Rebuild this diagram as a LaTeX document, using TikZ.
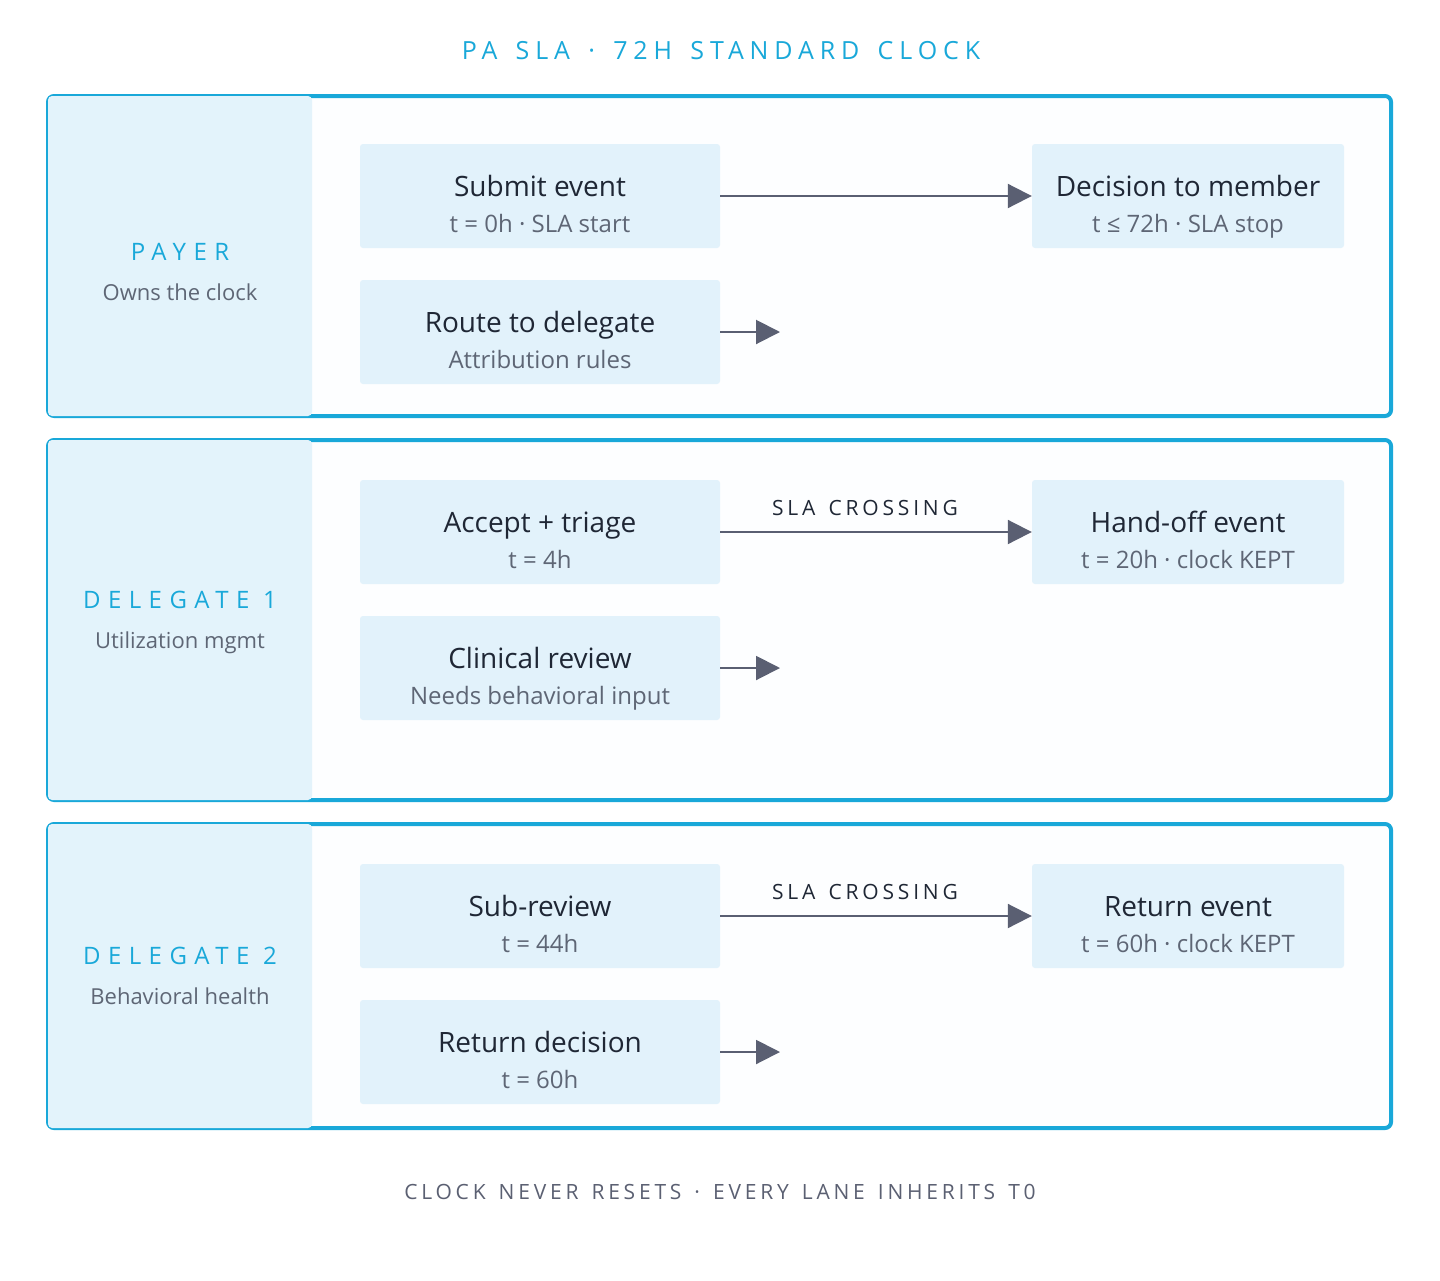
\documentclass[tikz,border=0pt]{standalone}
\usepackage{fontspec}
\setmainfont{Open Sans}
\newfontfamily\trTitle[LetterSpace=23.6]{Open Sans}
\newfontfamily\trLane[LetterSpace=31]{Open Sans}
\newfontfamily\trSmall[LetterSpace=18.2]{Open Sans}
\newfontfamily\trFoot[LetterSpace=18]{Open Sans}
\newcommand\tgap[1]{\hspace{#1}\ }
\usetikzlibrary{arrows.meta}
\definecolor{laneblue}{HTML}{19A8D9}
\definecolor{panelfill}{HTML}{E3F3FB}
\definecolor{boxfill}{HTML}{E2F2FB}
\definecolor{lanebg}{HTML}{FDFEFF}
\definecolor{arrowgray}{HTML}{5A5F72}
\definecolor{maintext}{HTML}{1F2735}
\definecolor{subtext}{HTML}{5E6675}
\definecolor{foottext}{HTML}{5B6072}
\tikzset{
  lanerect/.style={draw=laneblue, line width=4pt, fill=lanebg, rounded corners=6pt},
  panelrect/.style={fill=panelfill, rounded corners=4pt},
  stepbox/.style={rectangle, fill=boxfill, rounded corners=3pt, minimum width=360pt, minimum height=104pt, inner sep=0pt},
  endbox/.style={rectangle, fill=boxfill, rounded corners=3pt, minimum width=312pt, minimum height=104pt, inner sep=0pt},
  maintxt/.style={anchor=base, inner sep=0pt, text=maintext, font=\fontsize{28}{34}\selectfont},
  subtxt/.style={anchor=base, inner sep=0pt, text=subtext, font=\fontsize{24}{29}\selectfont},
  lanetitle/.style={anchor=base, inner sep=0pt, text=laneblue, font=\trLane\fontsize{24}{30}\selectfont},
  lanesub/.style={anchor=base, inner sep=0pt, text=subtext, font=\fontsize{22}{27}\selectfont},
  crosslbl/.style={anchor=base, inner sep=0pt, text=maintext, font=\trSmall\fontsize{21}{26}\selectfont},
  arr/.style={draw=arrowgray, line width=2pt, -{Triangle[length=24pt,width=24pt]}},
}
\begin{document}
\begin{tikzpicture}[x=1pt,y=-1pt]
\useasboundingbox (0,0) rectangle (1440,1280);
\fill[white] (0,0) rectangle (1440,1280);

% title
\node[anchor=base, inner sep=0pt, text=laneblue, font=\trTitle\fontsize{25}{30}\selectfont] (title) at (721,59) {PA\tgap{5.9pt}SLA\tgap{5.9pt}·\tgap{5.9pt}72H\tgap{5.9pt}STANDARD\tgap{5.9pt}CLOCK\hspace{-5.9pt}};

% lanes
\draw[lanerect] (48,96) rectangle (1391,416);
\fill[panelrect] (48,96) rectangle (312,416);
\draw[lanerect] (48,440) rectangle (1391,800);
\fill[panelrect] (48,440) rectangle (312,800);
\draw[lanerect] (48,824) rectangle (1391,1128);
\fill[panelrect] (48,824) rectangle (312,1128);

% lane labels
\node[lanetitle] (l1) at (180,260) {PAYER\hspace{-7.4pt}};
\node[lanesub] (l1s) at (180,300) {Owns the clock};
\node[lanetitle] (l2) at (180,608) {DELEGATE 1\hspace{-7.4pt}};
\node[lanesub] (l2s) at (180,648) {Utilization mgmt};
\node[lanetitle] (l3) at (180,964) {DELEGATE 2\hspace{-7.4pt}};
\node[lanesub] (l3s) at (180,1004) {Behavioral health};

% lane 1 boxes
\node[stepbox] (submit) at (540,196) {};
\node[maintxt] at (540,196) {Submit event};
\node[subtxt] at (540,232) {t = 0h · SLA start};
\node[endbox] (decision) at (1188,196) {};
\node[maintxt] at (1188,196) {Decision to member};
\node[subtxt] at (1188,232) {t ≤ 72h · SLA stop};
\node[stepbox] (route) at (540,332) {};
\node[maintxt] at (540,332) {Route to delegate};
\node[subtxt] at (540,368) {Attribution rules};

% lane 2 boxes
\node[stepbox] (accept) at (540,532) {};
\node[maintxt] at (540,532) {Accept + triage};
\node[subtxt] at (540,568) {t = 4h};
\node[endbox] (handoff) at (1188,532) {};
\node[maintxt] at (1188,532) {Hand-off event};
\node[subtxt] at (1188,568) {t = 20h · clock KEPT};
\node[stepbox] (clinical) at (540,668) {};
\node[maintxt] at (540,668) {Clinical review};
\node[subtxt] at (540,704) {Needs behavioral input};

% lane 3 boxes
\node[stepbox] (subrev) at (540,916) {};
\node[maintxt] at (540,916) {Sub-review};
\node[subtxt] at (540,952) {t = 44h};
\node[endbox] (retevent) at (1188,916) {};
\node[maintxt] at (1188,916) {Return event};
\node[subtxt] at (1188,952) {t = 60h · clock KEPT};
\node[stepbox] (retdec) at (540,1052) {};
\node[maintxt] at (540,1052) {Return decision};
\node[subtxt] at (540,1088) {t = 60h};

% connectors
\coordinate (e1) at (780,332);
\coordinate (e2) at (780,668);
\coordinate (e3) at (780,1052);
\draw[arr] (submit.east) -- (decision.west);
\draw[arr] (route.east) -- (e1);
\draw[arr] (accept.east) -- (handoff.west);
\draw[arr] (clinical.east) -- (e2);
\draw[arr] (subrev.east) -- (retevent.west);
\draw[arr] (retdec.east) -- (e3);

\node[crosslbl] (c1) at (865,515.5) {SLA\tgap{3.8pt}CROSSING\hspace{-3.8pt}};
\node[crosslbl] (c2) at (865,899.5) {SLA\tgap{3.8pt}CROSSING\hspace{-3.8pt}};

% footer
\node[anchor=base, inner sep=0pt, text=foottext, font=\trFoot\fontsize{21}{26}\selectfont] (foot) at (720,1199.5) {CLOCK\tgap{3.8pt}NEVER\tgap{3.8pt}RESETS\tgap{3.8pt}·\tgap{3.8pt}EVERY\tgap{3.8pt}LANE\tgap{3.8pt}INHERITS\tgap{3.8pt}T0\hspace{-3.8pt}};
\end{tikzpicture}
\end{document}
